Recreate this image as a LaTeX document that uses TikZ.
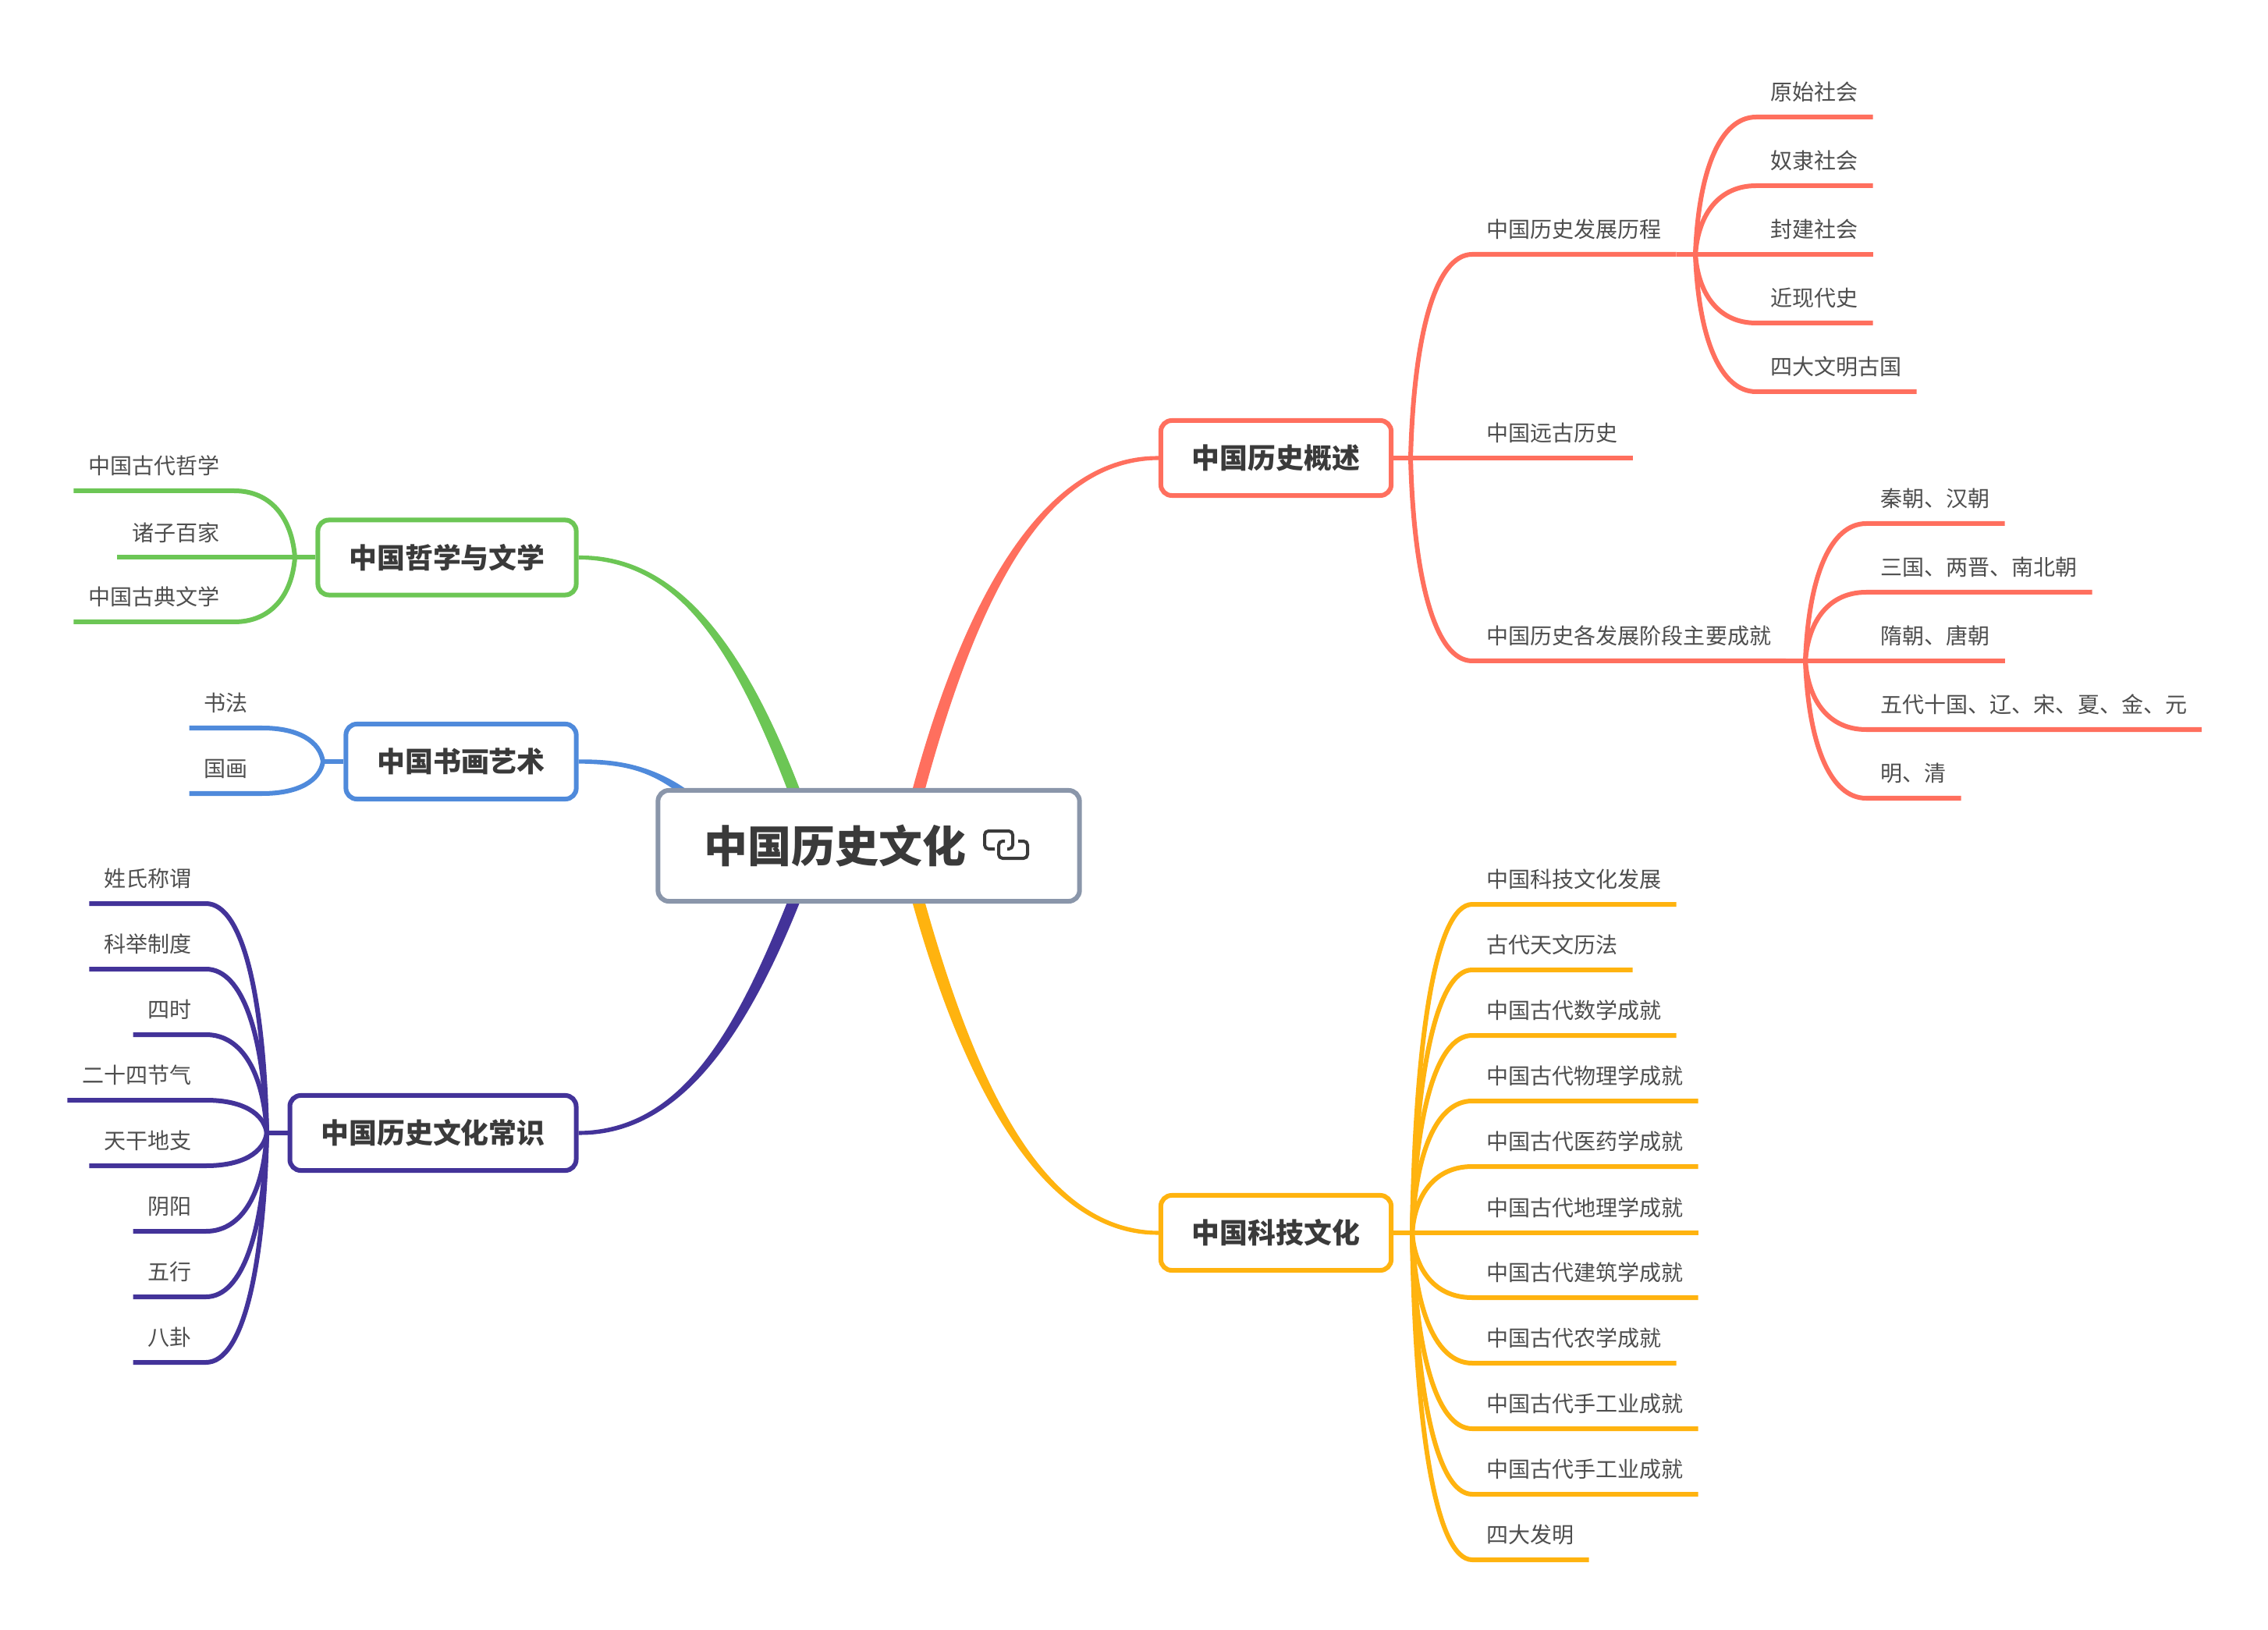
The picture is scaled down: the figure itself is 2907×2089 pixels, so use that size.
\documentclass[tikz,border=0pt]{standalone}
\usepackage{fontspec}
\setmainfont{Noto Sans CJK SC}
\usetikzlibrary{calc,backgrounds}
\definecolor{rootgray}{HTML}{8A96AA}
\definecolor{histred}{HTML}{FF6F5E}
\definecolor{techamber}{HTML}{FFB30F}
\definecolor{philgreen}{HTML}{6CC655}
\definecolor{artblue}{HTML}{4F8ADB}
\definecolor{lorepurple}{HTML}{433399}
\definecolor{inkgray}{HTML}{3A3A3A}

\begin{document}
\begin{tikzpicture}[x=0.01cm,y=-0.01cm,
  rootbox/.style={draw=rootgray,line width=0.06cm,rounded corners=0.14cm,fill=white,font=\fontsize{15.9}{18}\selectfont\bfseries,text=inkgray,minimum width=5.40cm,minimum height=1.42cm,inner sep=0},
  topicbox/.style={line width=0.06cm,rounded corners=0.14cm,fill=white,font=\fontsize{10.2}{12}\selectfont\bfseries,text=inkgray,minimum height=0.96cm,inner xsep=0.40cm,inner ysep=0},
  leaftext/.style={font=\fontsize{7.97}{10}\selectfont,text=inkgray!90,minimum height=0.66cm,inner xsep=0.18cm,inner ysep=0,text height=8.1pt,text depth=1pt},
  wire/.style={line width=0.06cm,line join=round},
  leafcurve/.style={to path={let \p1=(\tikztostart),\p2=(\tikztotarget) in .. controls ({\x1+0.05*(\x2-\x1)},{\y1+0.6*(\y2-\y1)}) and ({\x1+0.4*(\x2-\x1)},\y2) .. (\tikztotarget)}}]
\useasboundingbox (0,0) rectangle (2907,2089);

\node[rootbox] (root) at (1113.5,1084) {中国历史文化\rule{0.86cm}{0pt}};
\node[topicbox,draw=histred] (hist) at (1635.5,587) {中国历史概述};
\node[topicbox,draw=techamber] (tech) at (1635.5,1580) {中国科技文化};
\node[topicbox,draw=philgreen] (phil) at (573,714.5) {中国哲学与文学};
\node[topicbox,draw=artblue] (art) at (591,976) {中国书画艺术};
\node[topicbox,draw=lorepurple] (lore) at (555,1452) {中国历史文化常识};

% link icon in the root box
\draw[inkgray,line width=0.04cm,rounded corners=0.05cm] (1275,1088) -- (1262,1088) -- (1262,1065) -- (1298,1065) -- (1298,1088) -- (1291,1088);
\draw[inkgray,line width=0.04cm,rounded corners=0.05cm] (1305,1078) -- (1317,1078) -- (1317,1100) -- (1280,1100) -- (1280,1078) -- (1288,1078);

% main branches
\begin{scope}[on background layer]
\foreach \id/\a/\c/\px/\py/\qx/\qy/\ex/\ey/\sx/\sy in {
  hist/west/histred/1340/587/1240/760/1165/1060/-1/-1,
  tech/west/techamber/1340/1580/1240/1400/1165/1110/-1/1,
  phil/east/philgreen/880/714/960/850/1035/1060/1/-1,
  art/east/artblue/800/976/850/985/905/1040/1/-1,
  lore/east/lorepurple/880/1452/960/1310/1035/1110/1/1} {
  \fill[\c] ($(\id.\a)+(0,\sy*2.5)$) .. controls ($(\px,\py)+(0,\sy*4)$) and ($(\qx,\qy)+(\sx*9,0)$) .. ($(\ex,\ey)+(\sx*8,0)$)
    -- ($(\ex,\ey)+(-\sx*8,0)$) .. controls ($(\qx,\qy)+(-\sx*9,0)$) and ($(\px,\py)+(0,-\sy*4)$) .. ($(\id.\a)+(0,-\sy*2.5)$) -- cycle;
}
\end{scope}

% history
\coordinate (histhub) at (1808,587);
\draw[wire,histred] (hist.east) -- (histhub);
\foreach \id/\v/\t in {course/326/中国历史发展历程,remote/587/中国远古历史,stages/847/中国历史各发展阶段主要成就} {
  \node[leaftext,anchor=south west] (\id) at (1887,\v) {\t};
  \draw[wire,histred] (histhub) to[leafcurve] (\id.south west) -- (\id.south east);
}
\coordinate (coursehub) at (2173,326);
\coordinate (stagehub) at (2314,847);
\draw[wire,histred] (course.south east) -- (coursehub);
\draw[wire,histred] (stages.south east) -- (stagehub);
\foreach \id/\v/\t in {c1/150/原始社会,c2/238/奴隶社会,c3/326/封建社会,c4/414/近现代史,c5/502/四大文明古国} {
  \node[leaftext,anchor=south west] (\id) at (2251,\v) {\t};
  \draw[wire,histred] (coursehub) to[leafcurve] (\id.south west) -- (\id.south east);
}
\foreach \id/\v/\t in {s1/671/秦朝、汉朝,s2/759/三国、两晋、南北朝,s3/847/隋朝、唐朝,s4/935/五代十国、辽、宋、夏、金、元,s5/1023/明、清} {
  \node[leaftext,anchor=south west] (\id) at (2392,\v) {\t};
  \draw[wire,histred] (stagehub) to[leafcurve] (\id.south west) -- (\id.south east);
}

% science and technology
\coordinate (techhub) at (1810,1580);
\draw[wire,techamber] (tech.east) -- (techhub);
\foreach \id/\v/\t in {t1/1159/中国科技文化发展,t2/1243/古代天文历法,t3/1327/中国古代数学成就,t4/1411/中国古代物理学成就,t5/1495/中国古代医药学成就,t6/1580/中国古代地理学成就,t7/1663/中国古代建筑学成就,t8/1747/中国古代农学成就,t9/1831/中国古代手工业成就,t10/1915/中国古代手工业成就,t11/1999/四大发明} {
  \node[leaftext,anchor=south west] (\id) at (1887,\v) {\t};
  \draw[wire,techamber] (techhub) to[leafcurve] (\id.south west) -- (\id.south east);
}

% philosophy and literature
\coordinate (philhub) at (378,714.5);
\draw[wire,philgreen] (phil.west) -- (philhub);
\foreach \id/\v/\t in {p1/629/中国古代哲学,p2/714.5/诸子百家,p3/797/中国古典文学} {
  \node[leaftext,anchor=south east] (\id) at (300,\v) {\t};
  \draw[wire,philgreen] (philhub) to[leafcurve] (\id.south east) -- (\id.south west);
}

% calligraphy and painting
\coordinate (arthub) at (414,976);
\draw[wire,artblue] (art.west) -- (arthub);
\foreach \id/\v/\t in {a1/933/书法,a2/1017/国画} {
  \node[leaftext,anchor=south east] (\id) at (336,\v) {\t};
  \draw[wire,artblue] (arthub) to[leafcurve] (\id.south east) -- (\id.south west);
}

% general knowledge
\coordinate (lorehub) at (342,1452);
\draw[wire,lorepurple] (lore.west) -- (lorehub);
\foreach \id/\v/\t in {k1/1158/姓氏称谓,k2/1242/科举制度,k3/1326/四时,k4/1410/二十四节气,k5/1494/天干地支,k6/1578/阴阳,k7/1662/五行,k8/1746/八卦} {
  \node[leaftext,anchor=south east] (\id) at (264,\v) {\t};
  \draw[wire,lorepurple] (lorehub) to[leafcurve] (\id.south east) -- (\id.south west);
}
\end{tikzpicture}
\end{document}
